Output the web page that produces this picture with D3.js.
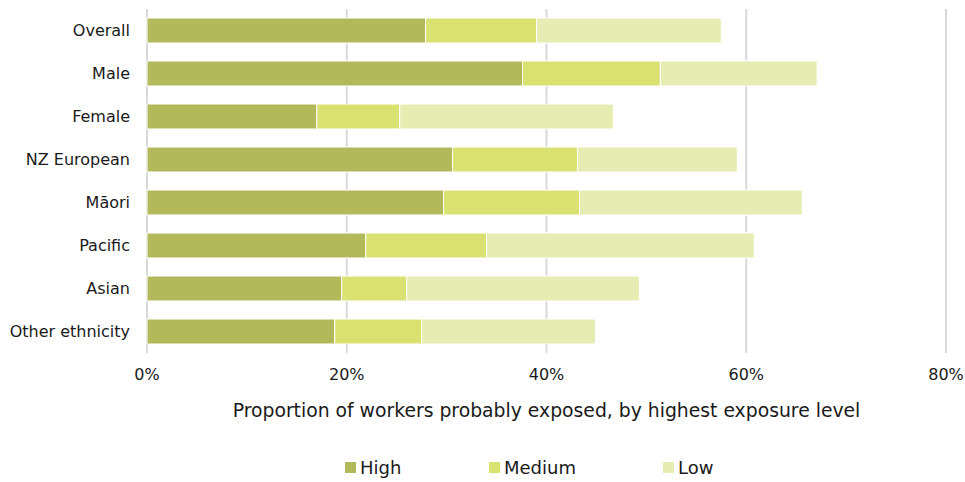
<!DOCTYPE html>
<html><head><meta charset="utf-8">
<script src="https://cdn.jsdelivr.net/npm/d3@7"></script>
<style>body{margin:0;background:#fff}svg{display:block}text{font-family:"DejaVu Sans",Verdana,sans-serif;fill:#1a1a1a}</style>
</head><body><svg id="c" width="965" height="482"></svg>
<script>
const categories = ["Overall","Male","Female","NZ European","Māori","Pacific","Asian","Other ethnicity"];
const seriesNames = ["High","Medium","Low"];
const high   = [27.9, 37.6, 17.0, 30.6, 29.7, 21.9, 19.5, 18.8];
const medium = [11.1, 13.8,  8.3, 12.5, 13.6, 12.1,  6.5,  8.7];
const low    = [18.5, 15.7, 21.4, 16.0, 22.3, 26.8, 23.3, 17.4];
const xTicks = [0, 20, 40, 60, 80];
const colors = ["#b1b95b", "#d9e170", "#e7ecb3"];
const xTitle = "Proportion of workers probably exposed, by highest exposure level";

(function () {
const svg = d3.select("#c");
const mLeft = 147, mRight = 946, mTop = 9, mBottom = 353;
const x = d3.scaleLinear().domain([0, 80]).range([mLeft, mRight]);
const y = d3.scaleBand().domain(categories).range([mTop, mBottom]).paddingInner(0.42).paddingOuter(0.21);

const data = categories.map((c, i) => ({cat: c, High: high[i], Medium: medium[i], Low: low[i]}));
const stacked = d3.stack().keys(seriesNames)(data);

svg.append("g").selectAll("line").data(xTicks).join("line")
  .attr("x1", d => x(d)).attr("x2", d => x(d))
  .attr("y1", mTop).attr("y2", mBottom)
  .attr("stroke", "#d9d9d9").attr("stroke-width", 2);

svg.append("g").selectAll("g").data(stacked).join("g")
  .attr("fill", (d, i) => colors[i])
  .selectAll("rect").data(d => d).join("rect")
  .attr("x", d => x(d[0]))
  .attr("y", d => y(d.data.cat))
  .attr("width", d => x(d[1]) - x(d[0]))
  .attr("height", y.bandwidth())
  .attr("stroke", "#fff").attr("stroke-width", 1);

svg.append("g").selectAll("text").data(categories).join("text")
  .attr("x", 130).attr("y", d => y(d) + y.bandwidth() / 2)
  .attr("dy", "0.35em").attr("text-anchor", "end")
  .attr("font-size", 16).text(d => d);

svg.append("g").selectAll("text").data(xTicks).join("text")
  .attr("x", d => x(d)).attr("y", 380)
  .attr("text-anchor", "middle").attr("font-size", 16)
  .text(d => d + "%");

svg.append("text").attr("x", (mLeft + mRight) / 2).attr("y", 417)
  .attr("text-anchor", "middle").attr("font-size", 18.8).text(xTitle);

const legX = [345, 489, 663];
const leg = svg.append("g").selectAll("g").data(seriesNames).join("g")
  .attr("transform", (d, i) => `translate(${legX[i]},462)`);
leg.append("rect").attr("width", 11).attr("height", 11).attr("fill", (d, i) => colors[i]);
leg.append("text").attr("x", 15).attr("y", 12).attr("font-size", 18).text(d => d);
})();
</script></body></html>
